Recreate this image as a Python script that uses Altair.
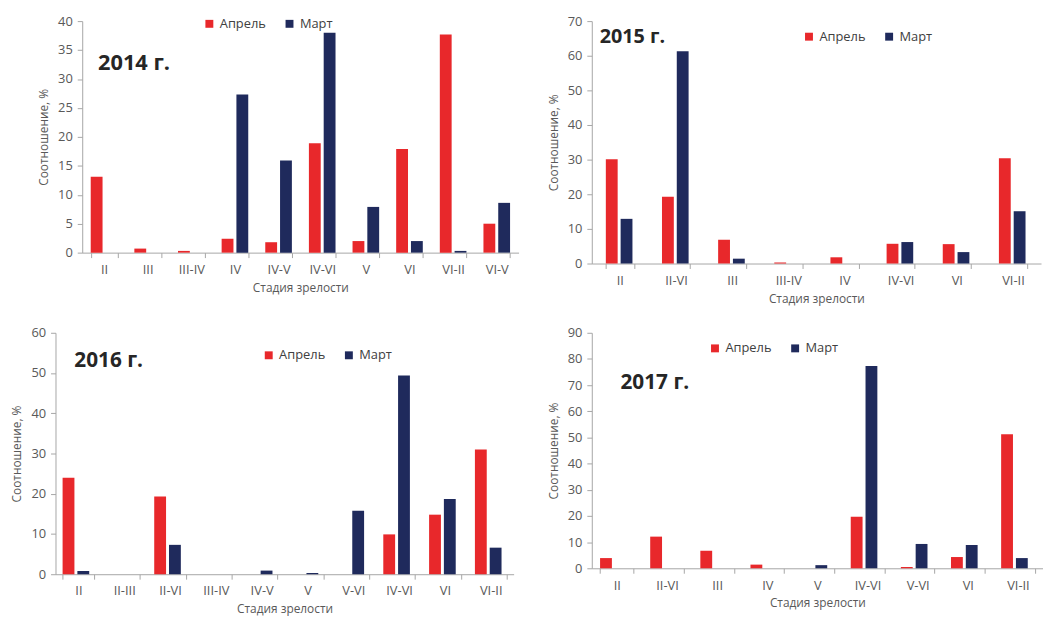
import altair as alt
import pandas as pd

FONT = "Open Sans"
MONTHS = ["Апрель", "Март"]
COLORS = ["#E8282B", "#1F2A5C"]

# ---- data ----
stages_2014 = ["II", "III", "III-IV", "IV", "IV-V", "IV-VI", "V", "VI", "VI-II", "VI-V"]
april_2014 = [13.1, 0.7, 0.3, 2.4, 1.8, 18.9, 2.0, 17.9, 37.7, 5.0]
march_2014 = [0.0, 0.0, 0.0, 27.3, 15.9, 38.0, 7.9, 2.0, 0.3, 8.6]

stages_2015 = ["II", "II-VI", "III", "III-IV", "IV", "IV-VI", "VI", "VI-II"]
april_2015 = [30.1, 19.3, 6.9, 0.3, 1.8, 5.7, 5.6, 30.4]
march_2015 = [12.9, 61.3, 1.4, 0.0, 0.0, 6.2, 3.3, 15.1]

stages_2016 = ["II", "II-III", "II-VI", "III-IV", "IV-V", "V", "V-VI", "IV-VI", "VI", "VI-II"]
april_2016 = [24.0, 0.0, 19.3, 0.0, 0.0, 0.0, 0.0, 9.9, 14.8, 31.0]
march_2016 = [0.8, 0.0, 7.3, 0.0, 0.9, 0.3, 15.8, 49.4, 18.7, 6.6]

stages_2017 = ["II", "II-VI", "III", "IV", "V", "IV-VI", "V-VI", "VI", "VI-II"]
april_2017 = [3.9, 12.1, 6.7, 1.4, 0.0, 19.7, 0.5, 4.3, 51.2]
march_2017 = [0.0, 0.0, 0.0, 0.0, 1.2, 77.3, 9.3, 8.9, 3.9]


def panel(year, stages, apr, mar, ymax, ystep, w, h, pad_inner,
          leg_x, leg_y, lab_x, lab_y, lab_size, shift=0):
    df = pd.DataFrame({
        "stage": stages * 2,
        "month": [MONTHS[0]] * len(stages) + [MONTHS[1]] * len(stages),
        "value": apr + mar,
    })
    xscale = dict(paddingInner=pad_inner, paddingOuter=pad_inner / 2)
    yaxis = dict(values=list(range(0, ymax + 1, ystep)), grid=False,
                 labelPadding=5, titlePadding=7)
    if shift:
        # layout only: leave an empty strip left of this panel's axis
        xscale["range"] = [shift, w + shift]
        yaxis["offset"] = -shift
    bars = alt.Chart(df).mark_bar().encode(
        x=alt.X("stage:N", sort=stages, title="Стадия зрелости",
                scale=alt.Scale(**xscale),
                axis=alt.Axis(labelAngle=0, tickBand="extent", labelPadding=6,
                              titlePadding=6)),
        xOffset=alt.XOffset("month:N", sort=MONTHS, scale=alt.Scale(paddingInner=0.2)),
        y=alt.Y("value:Q", title="Соотношение, %",
                scale=alt.Scale(domain=[0, ymax], nice=False),
                axis=alt.Axis(**yaxis)),
        color=alt.Color("month:N", sort=MONTHS,
                        scale=alt.Scale(domain=MONTHS, range=COLORS),
                        legend=alt.Legend(orient="none", legendX=leg_x + shift,
                                          legendY=leg_y, direction="horizontal",
                                          title=None)),
    )
    label = alt.Chart(pd.DataFrame({"year": [year]})).mark_text(
        align="left", baseline="middle", fontSize=lab_size, fontWeight="bold",
        color="#262626", font=FONT
    ).encode(text="year:N", x=alt.value(lab_x + shift), y=alt.value(lab_y))
    return alt.layer(bars, label).properties(width=w + shift, height=h)


p1 = panel("2014 г.", stages_2014, april_2014, march_2014, 40, 5, 441, 234, 0.39,
           122, -4, 16, 42, 22, shift=27)
p2 = panel("2015 г.", stages_2015, april_2015, march_2015, 70, 10, 454, 245, 0.5,
           213, 9, 8, 16, 20)
p3 = panel("2016 г.", stages_2016, april_2016, march_2016, 60, 10, 463, 244, 0.31,
           209, 16, 19, 29, 21)
p4 = panel("2017 г.", stages_2017, april_2017, march_2017, 90, 10, 456, 238, 0.33,
           118, 9, 29, 51, 21)

chart = alt.concat(
    p1, p2, p3, p4, columns=2, bounds="flush",
    spacing={"row": 70, "column": 74},
).resolve_scale(color="independent").resolve_legend(color="independent").properties(
    padding={"left": 3, "top": 4, "right": 0, "bottom": 0}
).configure_view(
    stroke=None
).configure_axis(
    domainColor="#A6A6A6", tickColor="#A6A6A6", tickSize=5,
    labelColor="#595959", titleColor="#595959",
    labelFont=FONT, titleFont=FONT, labelFontSize=13, titleFontSize=12,
    titleFontWeight="normal",
).configure_legend(
    labelFont=FONT, labelFontSize=13, labelColor="#404040",
    symbolType="square", symbolSize=64, symbolStrokeWidth=0,
    columnPadding=17, labelOffset=4, padding=0,
)

chart.save("out.html", embed_options={"renderer": "svg", "actions": False})
